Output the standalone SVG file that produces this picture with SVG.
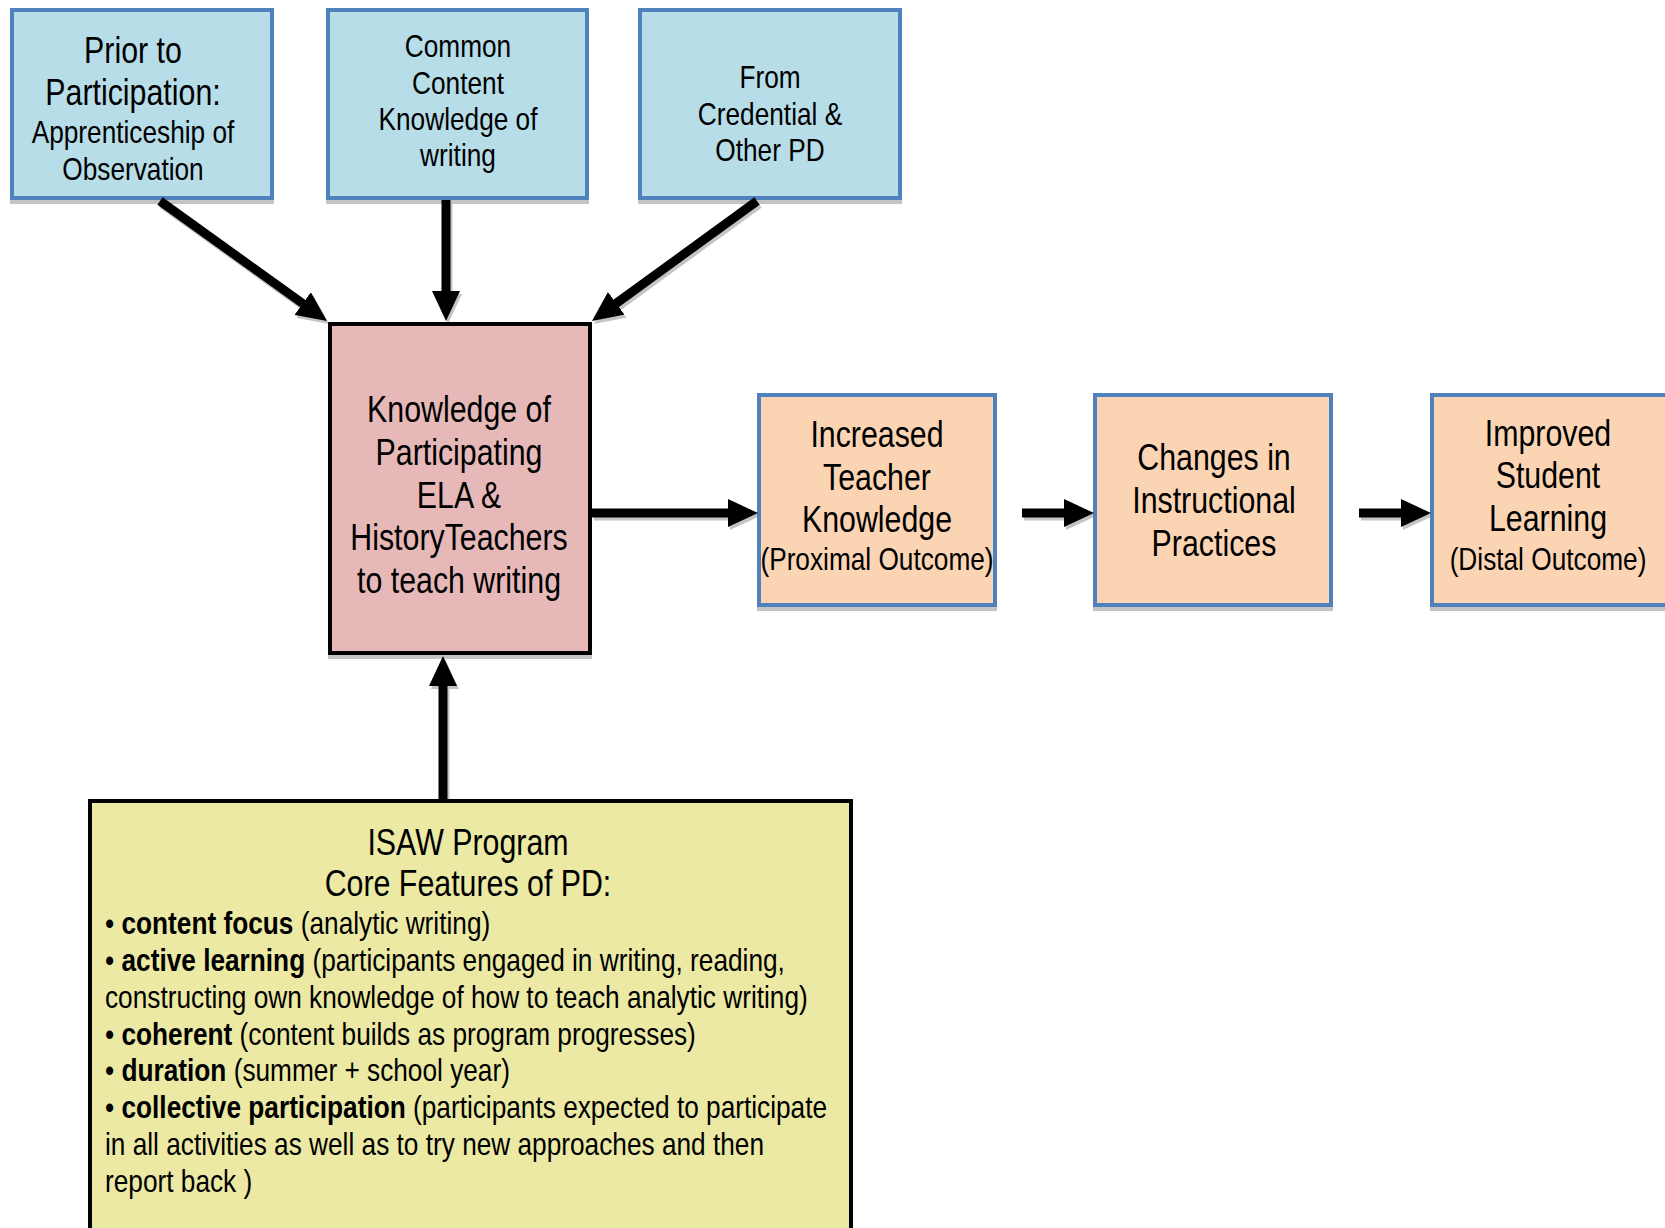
<svg xmlns="http://www.w3.org/2000/svg" width="1665" height="1228" viewBox="0 0 1665 1228">
<defs>
<style>
text{font-family:"Liberation Sans",Arial,sans-serif;fill:#000;}
.c{text-anchor:middle;}
.f37{font-size:37px;}
.f32{font-size:32px;}
.blue{fill:#b7dde8;stroke:#4f81bd;stroke-width:4;}
.pink{fill:#e6b9b8;stroke:#000;stroke-width:4;}
.orange{fill:#fbd4b4;stroke:#4f81bd;stroke-width:4;}
.yellow{fill:#ebe9a3;stroke:#000;stroke-width:4;}
.shadow{fill:#c4c4c4;}
.arr{stroke:#000;stroke-width:9;fill:none;marker-end:url(#head);}
.arrs{stroke:#c4c4c4;stroke-width:9;fill:none;marker-end:url(#heads);}
.b{font-weight:bold;}
</style>
<marker id="head" markerUnits="userSpaceOnUse" markerWidth="30" markerHeight="28" viewBox="0 0 30 28" refX="2" refY="14" orient="auto"><path d="M0,0 L30,14 L0,28 z" fill="#000"/></marker>
<marker id="heads" markerUnits="userSpaceOnUse" markerWidth="30" markerHeight="28" viewBox="0 0 30 28" refX="2" refY="14" orient="auto"><path d="M0,0 L30,14 L0,28 z" fill="#c4c4c4"/></marker>
</defs>
<rect width="1665" height="1228" fill="#fff"/>

<g id="connectors-shadow" transform="translate(2,3)">
<line class="arrs" x1="160" y1="201" x2="304.3" y2="304.7"/>
<line class="arrs" x1="446" y1="200" x2="446" y2="293"/>
<line class="arrs" x1="757" y1="201" x2="614.6" y2="304.5"/>
<line class="arrs" x1="592" y1="513" x2="730" y2="513"/>
<line class="arrs" x1="1022" y1="513" x2="1066" y2="513"/>
<line class="arrs" x1="1359" y1="513" x2="1403" y2="513"/>
<line class="arrs" x1="443" y1="800" x2="443" y2="684"/>
</g>

<g id="node-prior">
<rect class="shadow" x="10" y="200" width="264" height="4"/>
<rect class="blue" x="12" y="10" width="260" height="188"/>
<g transform="translate(133 0) scale(0.82 1)">
<text class="c f37" x="0" y="63">Prior to</text>
<text class="c f37" x="0" y="105">Participation:</text>
<text class="c f32" x="0" y="143">Apprenticeship of</text>
<text class="c f32" x="0" y="180">Observation</text>
</g>
</g>

<g id="node-common">
<rect class="shadow" x="326" y="200" width="263" height="4"/>
<rect class="blue" x="328" y="10" width="259" height="188"/>
<g transform="translate(458 0) scale(0.82 1)">
<text class="c f32" x="0" y="57">Common</text>
<text class="c f32" x="0" y="94">Content</text>
<text class="c f32" x="0" y="130">Knowledge of</text>
<text class="c f32" x="0" y="166">writing</text>
</g>
</g>

<g id="node-credential">
<rect class="shadow" x="638" y="200" width="264" height="4"/>
<rect class="blue" x="640" y="10" width="260" height="188"/>
<g transform="translate(770 0) scale(0.82 1)">
<text class="c f32" x="0" y="88">From</text>
<text class="c f32" x="0" y="125">Credential &amp;</text>
<text class="c f32" x="0" y="161">Other PD</text>
</g>
</g>

<g id="node-knowledge">
<rect class="shadow" x="328" y="655" width="264" height="4"/>
<rect class="pink" x="330" y="324" width="260" height="329"/>
<g transform="translate(459 0) scale(0.82 1)">
<text class="c f37" x="0" y="422">Knowledge of</text>
<text class="c f37" x="0" y="465">Participating</text>
<text class="c f37" x="0" y="508">ELA &amp;</text>
<text class="c f37" x="0" y="550">HistoryTeachers</text>
<text class="c f37" x="0" y="593">to teach writing</text>
</g>
</g>

<g id="node-increased">
<rect class="shadow" x="757" y="607" width="240" height="4"/>
<rect class="orange" x="759" y="395" width="236" height="210"/>
<g transform="translate(877 0) scale(0.82 1)">
<text class="c f37" x="0" y="447">Increased</text>
<text class="c f37" x="0" y="490">Teacher</text>
<text class="c f37" x="0" y="532">Knowledge</text>
<text class="c f32" x="0" y="570">(Proximal Outcome)</text>
</g>
</g>

<g id="node-changes">
<rect class="shadow" x="1093" y="607" width="240" height="4"/>
<rect class="orange" x="1095" y="395" width="236" height="210"/>
<g transform="translate(1214 0) scale(0.82 1)">
<text class="c f37" x="0" y="470">Changes in</text>
<text class="c f37" x="0" y="513">Instructional</text>
<text class="c f37" x="0" y="556">Practices</text>
</g>
</g>

<g id="node-improved">
<rect class="shadow" x="1430" y="607" width="240" height="4"/>
<rect class="orange" x="1432" y="395" width="240" height="210"/>
<g transform="translate(1548 0) scale(0.82 1)">
<text class="c f37" x="0" y="446">Improved</text>
<text class="c f37" x="0" y="488">Student</text>
<text class="c f37" x="0" y="531">Learning</text>
<text class="c f32" x="0" y="570">(Distal Outcome)</text>
</g>
</g>

<g id="node-isaw">
<rect class="yellow" x="90" y="801" width="761" height="440"/>
<g transform="translate(468 0) scale(0.82 1)">
<text class="c f37" x="0" y="855">ISAW Program</text>
<text class="c f37" x="0" y="896">Core Features of PD:</text>
</g>
<g transform="translate(105 0) scale(0.82 1)">
<text class="f32" x="0" y="934">• <tspan class="b">content focus</tspan> (analytic writing)</text>
<text class="f32" x="0" y="971">• <tspan class="b">active learning</tspan> (participants engaged in writing, reading,</text>
<text class="f32" x="0" y="1008">constructing own knowledge of how to teach analytic writing)</text>
<text class="f32" x="0" y="1045">• <tspan class="b">coherent</tspan> (content builds as program progresses)</text>
<text class="f32" x="0" y="1081">• <tspan class="b">duration</tspan> (summer + school year)</text>
<text class="f32" x="0" y="1118">• <tspan class="b">collective participation</tspan> (participants expected to participate</text>
<text class="f32" x="0" y="1155">in all activities as well as to try new approaches and then</text>
<text class="f32" x="0" y="1192">report back )</text>
</g>
</g>

<g id="connectors">
<line class="arr" x1="160" y1="201" x2="304.3" y2="304.7"/>
<line class="arr" x1="446" y1="200" x2="446" y2="293"/>
<line class="arr" x1="757" y1="201" x2="614.6" y2="304.5"/>
<line class="arr" x1="592" y1="513" x2="730" y2="513"/>
<line class="arr" x1="1022" y1="513" x2="1066" y2="513"/>
<line class="arr" x1="1359" y1="513" x2="1403" y2="513"/>
<line class="arr" x1="443" y1="800" x2="443" y2="684"/>
</g>
</svg>
